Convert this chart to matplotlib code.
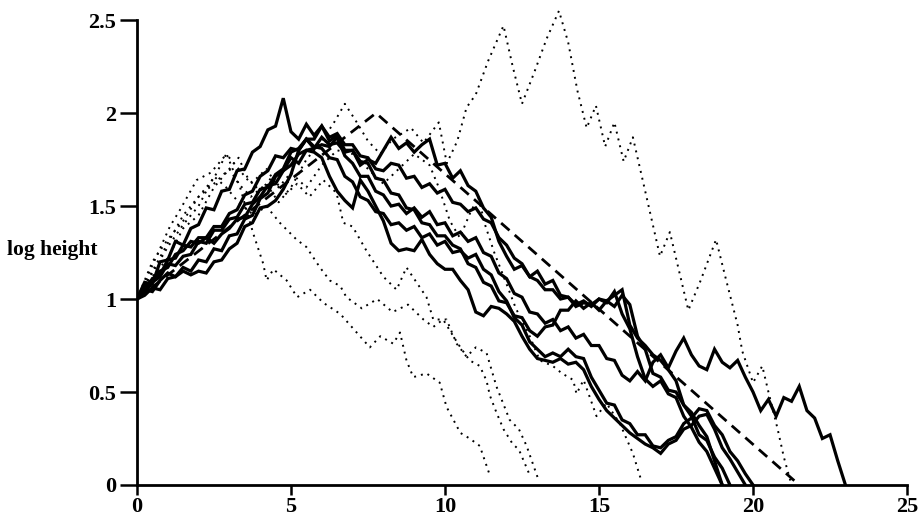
import numpy as np
import matplotlib.pyplot as plt

# solid runs, sampled every 0.25 along x
step = 0.25
solid_1 = [1.00, 1.09, 1.08, 1.20, 1.21, 1.31, 1.29, 1.38, 1.40, 1.49, 1.48, 1.58, 1.59, 1.69, 1.70, 1.79,
           1.82, 1.91, 1.93, 2.08, 1.90, 1.86, 1.94, 1.88, 1.93, 1.85, 1.88, 1.80, 1.80, 1.72, 1.75, 1.73,
           1.80, 1.87, 1.81, 1.84, 1.79, 1.83, 1.86, 1.72, 1.73, 1.65, 1.69, 1.61, 1.58, 1.49, 1.44, 1.31,
           1.23, 1.16, 1.18, 1.12, 1.15, 1.08, 1.10, 1.02, 1.01, 0.97, 0.99, 0.96, 1.00, 0.98, 1.04, 0.92,
           0.84, 0.69, 0.57, 0.53, 0.56, 0.49, 0.47, 0.37, 0.31, 0.23, 0.18, 0.09, 0.00]
solid_2 = [1.00, 1.04, 1.11, 1.13, 1.21, 1.22, 1.29, 1.28, 1.33, 1.33, 1.39, 1.39, 1.46, 1.48, 1.56, 1.58,
           1.66, 1.69, 1.77, 1.76, 1.81, 1.80, 1.86, 1.86, 1.93, 1.87, 1.89, 1.83, 1.83, 1.77, 1.76, 1.70,
           1.69, 1.73, 1.72, 1.65, 1.66, 1.60, 1.62, 1.57, 1.59, 1.52, 1.51, 1.47, 1.49, 1.43, 1.41, 1.33,
           1.29, 1.22, 1.19, 1.12, 1.10, 1.05, 1.05, 1.00, 1.01, 0.96, 0.98, 0.97, 1.00, 0.99, 1.02, 1.05,
           0.86, 0.79, 0.75, 0.70, 0.67, 0.62, 0.56, 0.43, 0.39, 0.32, 0.26, 0.13, 0.00]
solid_3 = [1.00, 1.03, 1.09, 1.12, 1.19, 1.18, 1.23, 1.24, 1.31, 1.30, 1.37, 1.37, 1.43, 1.44, 1.51, 1.52,
           1.59, 1.60, 1.67, 1.70, 1.79, 1.81, 1.86, 1.81, 1.83, 1.82, 1.87, 1.77, 1.73, 1.66, 1.66, 1.58,
           1.56, 1.50, 1.51, 1.46, 1.49, 1.44, 1.47, 1.40, 1.41, 1.34, 1.36, 1.31, 1.33, 1.25, 1.23, 1.14,
           1.11, 1.03, 1.01, 0.93, 0.92, 0.87, 0.89, 0.83, 0.85, 0.79, 0.81, 0.75, 0.75, 0.68, 0.67, 0.59,
           0.56, 0.61, 0.56, 0.66, 0.70, 0.63, 0.72, 0.79, 0.70, 0.64, 0.62, 0.73, 0.66, 0.63, 0.67, 0.58,
           0.50, 0.40, 0.46, 0.37, 0.47, 0.45, 0.53, 0.40, 0.36, 0.25, 0.27, 0.13, 0.00]
solid_4 = [1.00, 1.05, 1.04, 1.10, 1.14, 1.12, 1.15, 1.13, 1.15, 1.14, 1.20, 1.21, 1.27, 1.30, 1.39, 1.41,
           1.49, 1.50, 1.53, 1.59, 1.67, 1.80, 1.86, 1.82, 1.81, 1.76, 1.75, 1.66, 1.63, 1.55, 1.53, 1.47,
           1.46, 1.40, 1.41, 1.37, 1.39, 1.33, 1.35, 1.29, 1.31, 1.25, 1.26, 1.22, 1.24, 1.16, 1.13, 1.04,
           0.99, 0.90, 0.86, 0.77, 0.73, 0.69, 0.71, 0.69, 0.73, 0.69, 0.68, 0.58, 0.51, 0.44, 0.43, 0.35,
           0.33, 0.27, 0.27, 0.21, 0.20, 0.24, 0.26, 0.33, 0.36, 0.41, 0.40, 0.32, 0.27, 0.18, 0.13, 0.06,
           0.00]
solid_5 = [1.00, 1.07, 1.10, 1.15, 1.17, 1.24, 1.26, 1.31, 1.30, 1.33, 1.30, 1.35, 1.38, 1.43, 1.44, 1.51,
           1.55, 1.61, 1.62, 1.69, 1.72, 1.78, 1.80, 1.79, 1.76, 1.66, 1.58, 1.53, 1.49, 1.64, 1.58, 1.50,
           1.42, 1.30, 1.26, 1.27, 1.26, 1.32, 1.24, 1.19, 1.16, 1.16, 1.10, 1.05, 0.93, 0.91, 0.96, 0.95,
           0.92, 0.88, 0.80, 0.73, 0.68, 0.67, 0.66, 0.68, 0.65, 0.66, 0.62, 0.53, 0.46, 0.40, 0.36, 0.32,
           0.28, 0.25, 0.22, 0.20, 0.17, 0.22, 0.24, 0.30, 0.32, 0.37, 0.38, 0.30, 0.20, 0.14, 0.07, 0.00]
solid_6 = [1.00, 1.02, 1.06, 1.05, 1.11, 1.12, 1.17, 1.15, 1.21, 1.20, 1.27, 1.26, 1.34, 1.35, 1.43, 1.45,
           1.54, 1.57, 1.66, 1.69, 1.76, 1.73, 1.80, 1.81, 1.87, 1.83, 1.84, 1.79, 1.80, 1.74, 1.73, 1.65,
           1.64, 1.57, 1.56, 1.49, 1.48, 1.41, 1.40, 1.34, 1.34, 1.29, 1.27, 1.19, 1.17, 1.09, 1.07, 0.99,
           0.98, 0.91, 0.90, 0.83, 0.80, 0.85, 0.86, 0.94, 0.94, 0.99, 0.95, 0.98, 0.94, 0.99, 0.96, 1.02,
           0.97, 0.80, 0.73, 0.60, 0.58, 0.51, 0.50, 0.43, 0.37, 0.27, 0.24, 0.15, 0.09, 0.00]

# dotted runs
dot1_x = [0, 0.5, 1, 1.5, 2, 2.5, 3, 3.3, 3.7, 4.2, 4.6, 5, 5.5, 6, 6.4, 6.75, 7.1, 7.5, 7.9, 8.3,
          8.9, 9.3, 9.8, 10.06, 10.4, 10.7, 11.0, 11.4, 11.9, 12.2, 12.5, 12.9, 13.3, 13.7, 14.0, 14.3,
          14.6, 14.9, 15.2, 15.5, 15.8, 16.1, 16.5, 16.98, 17.3, 17.6, 17.9, 18.3, 18.8, 19.1, 19.5,
          19.65, 20.0, 20.3, 20.5, 20.8, 21.0, 21.25]
dot1_y = [1.0, 1.12, 1.22, 1.38, 1.45, 1.6, 1.7, 1.62, 1.55, 1.62, 1.52, 1.6, 1.75, 1.85, 1.95, 2.05,
          1.96, 1.85, 1.78, 1.86, 1.92, 1.84, 1.95, 1.73, 1.85, 2.03, 2.1, 2.28, 2.47, 2.25, 2.05, 2.22,
          2.4, 2.55, 2.38, 2.12, 1.92, 2.04, 1.82, 1.95, 1.74, 1.87, 1.58, 1.23, 1.36, 1.15, 0.94, 1.1,
          1.32, 1.12, 0.86, 0.72, 0.55, 0.64, 0.5, 0.3, 0.15, 0.0]
dot2_x = [0, 0.5, 1, 1.5, 2, 2.5, 2.9, 3.3, 3.7, 4.2, 4.6, 5.0, 5.5, 6.0, 6.5, 7.0, 7.5, 8.0, 8.5,
          9.0, 9.5, 9.8, 10.16, 10.48, 10.81, 11.08, 11.3, 11.6, 12.0, 12.3, 12.7, 13.08, 13.5, 13.8,
          14.16, 14.27, 14.5, 14.92, 15.24, 15.68, 16.1, 16.38]
dot2_y = [1.0, 1.15, 1.3, 1.45, 1.55, 1.65, 1.78, 1.7, 1.62, 1.7, 1.6, 1.68, 1.6, 1.72, 1.8, 1.78,
          1.7, 1.62, 1.7, 1.78, 1.72, 1.6, 1.42, 1.33, 1.46, 1.55, 1.4, 1.25, 1.08, 0.95, 0.82, 0.67,
          0.64, 0.6, 0.565, 0.49, 0.565, 0.37, 0.44, 0.33, 0.17, 0.02]
dot3_x = [0, 0.5, 1.07, 1.4, 1.94, 2.4, 2.91, 3.35, 3.78, 4.1, 4.21, 4.43, 4.86, 5.2, 5.62, 6.05,
          6.6, 7.24, 7.56, 7.9, 8.32, 8.54, 8.75, 8.97, 9.4, 9.83, 10.05, 10.5, 10.8, 11.13, 11.46]
dot3_y = [1.0, 1.18, 1.39, 1.48, 1.64, 1.68, 1.78, 1.6, 1.35, 1.19, 1.10, 1.16, 1.10, 1.01, 1.05,
          0.98, 0.92, 0.80, 0.74, 0.80, 0.76, 0.82, 0.67, 0.58, 0.60, 0.55, 0.42, 0.28, 0.25, 0.21, 0.05]
dot4_x = [0, 0.5, 1.0, 1.5, 2.0, 2.5, 3.0, 3.3, 3.6, 4.0, 4.4, 4.8, 5.2, 5.6, 6.05, 6.48, 6.7, 7.0,
          7.45, 8.0, 8.43, 8.75, 9.4, 9.62, 10.05, 10.38, 10.7, 11.0, 11.35, 11.67, 12.1, 12.4, 12.65,
          13.03]
dot4_y = [1.0, 1.2, 1.32, 1.42, 1.55, 1.62, 1.7, 1.76, 1.65, 1.58, 1.66, 1.56, 1.62, 1.55, 1.64,
          1.57, 1.41, 1.39, 1.26, 1.12, 1.05, 1.17, 1.01, 0.89, 0.89, 0.76, 0.69, 0.74, 0.71, 0.53,
          0.35, 0.3, 0.21, 0.03]
dot5_x = [0, 0.5, 1.0, 1.5, 2.0, 2.5, 2.9, 3.3, 3.8, 4.2, 4.64, 5.18, 5.5, 5.94, 6.26, 6.6, 6.8,
          7.3, 7.8, 8.3, 8.8, 9.3, 9.62, 9.94, 10.27, 10.5, 10.8, 11.13, 11.35, 11.46, 11.67, 11.9,
          12.2, 12.4, 12.76]
dot5_y = [1.0, 1.14, 1.28, 1.4, 1.5, 1.66, 1.6, 1.52, 1.45, 1.5, 1.41, 1.32, 1.28, 1.17, 1.1, 1.07,
          1.01, 0.95, 1.0, 0.93, 0.97, 0.89, 0.85, 0.89, 0.80, 0.74, 0.67, 0.64, 0.56, 0.48, 0.39,
          0.30, 0.22, 0.19, 0.05]

# dashed reference path
dash_x = [0, 7.76, 21.5]
dash_y = [1.0, 2.0, 0.0]

plt.rcParams['font.family'] = ['Liberation Serif', 'DejaVu Serif']
plt.rcParams['font.weight'] = 'bold'

fig = plt.figure(figsize=(9.19, 5.26), dpi=100)
ax = fig.add_axes([0.149, 0.078, 0.838, 0.912])

for ys in [solid_1, solid_2, solid_3, solid_4, solid_5, solid_6]:
    xs = np.arange(len(ys)) * step
    ax.plot(xs, ys, color='black', lw=2.3, solid_joinstyle='miter')

for xs, ys in [(dot1_x, dot1_y), (dot2_x, dot2_y), (dot3_x, dot3_y), (dot4_x, dot4_y), (dot5_x, dot5_y)]:
    ax.plot(xs, ys, color='black', lw=1.4, linestyle=(0, (1, 2.6)))

ax.plot(dash_x, dash_y, color='black', lw=2.0, dashes=(4, 2.5))

ax.set_xlim(0, 25)
ax.set_ylim(0, 2.58)
ax.set_xticks([0, 5, 10, 15, 20, 25])
ax.set_yticks([0, 0.5, 1, 1.5, 2, 2.5])
ax.set_yticklabels(['0', '0.5', '1', '1.5', '2', '2.5'])
for s in ['top', 'right']:
    ax.spines[s].set_visible(False)
ax.spines['left'].set_bounds(0, 2.5)
ax.spines['left'].set_linewidth(2)
ax.spines['bottom'].set_linewidth(2)
ax.tick_params(axis='both', direction='out', width=1.8, labelsize=16)
ax.tick_params(axis='x', length=7, pad=1.5)
ax.tick_params(axis='y', length=12, pad=3)
for lab in ax.get_xticklabels() + ax.get_yticklabels():
    lab.set_fontweight('bold')

fig.text(0.057, 0.525, 'log height', fontsize=15.5, fontweight='bold', ha='center', va='center')

plt.savefig('out.png', dpi=100)
